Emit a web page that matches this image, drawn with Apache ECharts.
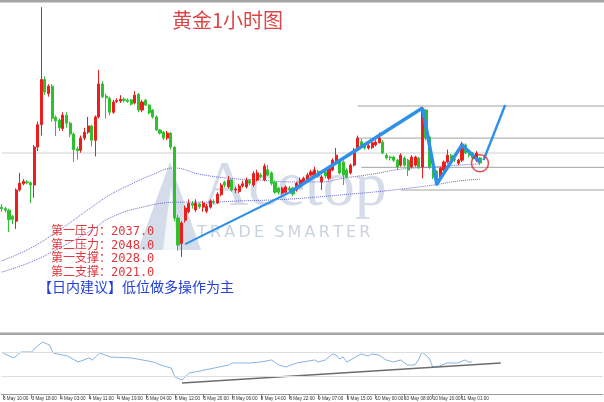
<!DOCTYPE html>
<html><head><meta charset="utf-8">
<script src="https://cdn.jsdelivr.net/npm/echarts/dist/echarts.min.js"></script>
<style>html,body{margin:0;padding:0;background:#fff}#c{width:604px;height:402px}</style>
</head><body><div id="c"></div>
<script>
const tickLabels = ['3 May 10:00','3 May 18:00','4 May 03:00','4 May 11:00','4 May 19:00','5 May 04:00','5 May 12:00','5 May 20:00','8 May 06:00','8 May 14:00','8 May 22:00','9 May 07:00','9 May 15:00','10 May 00:00','10 May 08:00','10 May 16:00','11 May 01:00'];
const slotCount = 168;

const opens = [2015.5,2015.0,2014.5,2012.5,2011.0,2021.0,2023.0,2023.6,2023.3,2022.6,
2034.8,2042.0,2056.5,2052.0,2054.4,2044.4,2043.5,2040.8,2045.0,2042.5,
2039.0,2034.2,2033.8,2037.7,2039.6,2041.6,2037.0,2044.5,2055.1,2051.2,
2050.5,2046.0,2049.5,2049.6,2050.2,2049.9,2050.0,2049.0,2051.8,2046.7,
2049.9,2048.3,2046.7,2044.5,2040.3,2039.6,2037.7,2039.3,2034.8,2012.0,
2003.8,2011.3,2014.0,2016.7,2014.6,2016.5,2015.5,2014.2,2015.5,2017.3,
2016.8,2019.5,2023.5,2022.0,2024.2,2021.0,2020.5,2022.3,2022.0,2024.0,
2022.6,2024.2,2025.8,2024.2,2027.5,2026.5,2023.5,2021.6,2020.0,2020.3,
2021.6,2021.6,2021.0,2022.0,2023.2,2024.2,2025.8,2025.2,2027.0,2023.6,
2026.8,2024.8,2027.4,2030.0,2030.6,2030.0,2027.4,2026.5,2029.0,2033.9,
2036.5,2035.5,2034.5,2034.6,2035.5,2036.2,2036.4,2032.2,2031.6,2031.6,
2030.6,2029.0,2031.3,2030.6,2028.4,2029.0,2031.3,2028.4,2046.7,2038.0,
2028.4,2027.0,2024.8,2027.4,2030.0,2032.2,2031.0,2029.6,2030.6,2035.5,
2033.2,2032.9,2030.6,2031.3];
const closes = [2015.0,2014.5,2011.5,2011.6,2021.0,2023.2,2023.8,2023.3,2022.6,2034.8,
2042.0,2056.5,2052.5,2054.4,2044.1,2043.2,2041.0,2045.1,2042.5,2039.0,
2034.0,2033.6,2037.7,2039.6,2041.6,2037.0,2044.5,2055.1,2051.0,2050.6,
2046.0,2049.3,2049.8,2050.2,2049.8,2049.5,2048.6,2051.5,2046.7,2049.3,
2048.3,2045.8,2044.5,2040.3,2039.3,2037.7,2039.3,2034.8,2012.0,2003.3,
2010.4,2015.2,2016.8,2016.1,2016.8,2015.6,2016.8,2015.8,2017.5,2017.1,
2019.7,2022.6,2022.6,2024.2,2021.0,2021.3,2022.3,2023.0,2024.2,2023.2,
2026.3,2026.5,2025.3,2028.7,2025.8,2023.2,2020.3,2020.3,2021.6,2022.0,
2021.0,2019.7,2023.2,2024.2,2024.8,2025.8,2026.8,2027.4,2025.5,2025.2,
2025.5,2028.0,2030.6,2032.2,2026.5,2025.8,2025.2,2029.0,2033.9,2037.7,
2035.3,2034.5,2035.2,2036.2,2036.4,2037.7,2032.9,2031.3,2031.3,2030.6,
2028.4,2032.2,2029.0,2027.4,2031.6,2031.6,2028.4,2046.7,2037.7,2028.4,
2025.2,2024.2,2028.0,2030.0,2032.2,2030.6,2030.8,2030.6,2035.8,2032.9,
2032.2,2031.3,2032.9,2029.7];
const lows = [2014.0,2013.8,2007.5,2010.0,2008.5,2020.5,2022.5,2022.8,2016.8,2018.5,
2033.5,2038.5,2051.5,2051.0,2043.0,2038.4,2040.0,2040.0,2041.0,2038.0,
2030.0,2030.8,2033.0,2037.0,2039.0,2035.0,2031.8,2044.0,2050.5,2044.0,
2045.0,2045.5,2049.0,2049.0,2049.2,2049.0,2048.2,2048.5,2046.0,2046.0,
2048.0,2045.3,2044.0,2040.0,2038.8,2037.0,2037.0,2034.0,2011.0,2001.5,
1999.5,2010.5,2013.5,2015.0,2014.0,2015.0,2014.0,2013.5,2015.0,2016.5,
2016.5,2019.0,2021.8,2021.5,2020.5,2020.0,2020.0,2021.8,2021.5,2022.5,
2022.0,2023.8,2024.8,2023.8,2025.5,2022.5,2019.8,2019.5,2019.5,2019.8,
2020.3,2019.0,2020.5,2021.5,2022.8,2023.8,2025.3,2024.8,2025.0,2021.0,
2024.8,2024.2,2027.0,2029.5,2026.0,2022.6,2024.8,2026.0,2028.6,2033.5,
2035.0,2034.0,2034.0,2034.2,2035.0,2036.0,2032.5,2030.8,2030.5,2030.0,
2027.5,2028.5,2028.5,2025.5,2028.0,2028.5,2027.8,2024.8,2037.0,2027.8,
2024.5,2022.5,2024.2,2027.0,2029.5,2030.0,2030.0,2029.0,2030.0,2032.5,
2031.5,2030.8,2030.0,2029.0];
const highs = [2016.5,2015.6,2015.0,2013.0,2021.5,2026.5,2024.5,2024.2,2023.8,2035.5,
2043.0,2079.8,2057.5,2055.0,2055.0,2045.0,2044.0,2046.0,2046.0,2043.0,
2039.5,2035.0,2038.5,2041.0,2044.5,2042.0,2045.0,2059.6,2056.0,2052.0,
2051.0,2050.0,2050.5,2051.5,2050.8,2050.5,2050.3,2052.8,2052.2,2050.0,
2050.3,2048.6,2047.0,2045.0,2040.6,2040.0,2040.0,2039.6,2035.0,2013.0,
2011.0,2016.0,2018.0,2017.5,2018.0,2017.0,2017.5,2016.5,2018.0,2018.0,
2020.3,2023.2,2024.0,2025.5,2024.5,2022.0,2023.0,2024.0,2025.0,2024.5,
2027.0,2027.5,2026.5,2029.5,2029.0,2027.0,2024.0,2022.0,2022.0,2022.5,
2022.3,2022.0,2023.6,2025.0,2025.3,2026.5,2027.5,2028.5,2027.5,2025.8,
2027.0,2028.5,2031.2,2034.5,2031.0,2030.5,2028.0,2029.5,2034.5,2038.5,
2037.5,2036.0,2035.8,2036.8,2037.0,2039.5,2037.0,2032.8,2032.0,2032.0,
2031.0,2032.8,2031.8,2031.0,2032.2,2032.0,2031.6,2047.7,2047.0,2038.5,
2028.7,2027.4,2028.5,2030.5,2034.0,2032.6,2031.5,2031.0,2036.5,2036.0,
2033.6,2033.2,2033.5,2031.6];

// moving averages (read at sample bars)
const maFastIdx = [0,8,16,25,30,36,41,48,55,63,72,80,89,95,103,111,120,127,133];
const maFastVal = [1998.2,2002.3,2008.1,2015.5,2019.4,2022.9,2025.5,2028.1,2026.1,2024.8,2024.2,2023.6,2023.6,2024.8,2026.1,2027.7,2028.4,2029.0,2029.4];
const maSlowIdx = [0,8,16,25,30,38,49,58,66,75,84,94,103,111,120,127,133];
const maSlowVal = [1994.6,1997.8,2002.3,2008.1,2012.0,2015.2,2017.1,2017.1,2017.5,2017.8,2018.4,2019.4,2020.3,2021.3,2022.6,2023.9,2024.5];

// RSI readings
const rsiIdx = [0,3,5,8,9,11,13,14,18,21,24,25,27,30,36,39,42,44,47,48,50,52,55,59,63,64,69,72,75,77,79,82,87,88,90,92,93,94,95,96,98,100,102,103,105,107,109,111,113,115,116,117,119,120,122,124,126,127,129,130,131];
const rsiVal = [68.3,60,70,70,76.7,86.7,81.7,68.3,63.3,53.3,60,56.7,68.3,61.7,60,56.7,53.3,48.3,43.3,28.3,23.3,35,38.3,43.3,48.3,51.7,51.7,53.3,56.7,48.3,45,51.7,56.7,53.3,56.7,66.7,65,58.3,61.7,53.3,60,66.7,63.3,66.7,65,56.7,53.3,56.7,48.3,48.3,56.7,70,60,45,46.7,51.7,51.7,51.7,56.7,53.3,53.3];
const rsiLevels = [70, 30];
const rsiTrendIdx = [50, 139];
const rsiTrendVal = [18.3, 51.6];

// annotated levels
const levelNames = ['第一压力','第二压力','第一支撑','第二支撑'];
const levelValues = [2037.0, 2048.0, 2028.0, 2021.0];
const drawnLevelPrices = [2048.0, 2037.7, 2028.3, 2021.0];
const drawnLevelStart = [99, 99, 100, 111];
const priceLine = 2032.9;

// hand-drawn analysis lines
const trendIdx = [51, 80, 117.4];
const trendVal = [2003.6, 2020.2, 2047.4];
const zigIdx = [117.4, 121, 128, 133];
const zigVal = [2047.4, 2022.9, 2035.5, 2030.0];
const arrowIdx = [134, 140.3];
const arrowVal = [2030.6, 2048.3];
const circleAt = [132.5, 2029.6];

const title = '黄金1小时图';
const advice = '【日内建议】低位做多操作为主';

const cats = Array.from({length: slotCount}, (_, i) => i);
const candles = opens.map((o, i) => [o, closes[i], lows[i], highs[i]]);
const pairs = (a, b) => a.map((x, i) => [x, b[i]]);

const blue = '#2e90e8';
const series = [
  { type:'candlestick', xAxisIndex:0, yAxisIndex:0, data:candles, barWidth:2.6, z:3,
    itemStyle:{color:'#ee1d1d', color0:'#2dc22d', borderColor:'#ee1d1d', borderColor0:'#2dc22d', borderWidth:1} },
  { type:'line', data:pairs(maFastIdx, maFastVal), symbol:'none', smooth:0.4, z:2,
    lineStyle:{type:'dotted', color:'#6767d0', width:1} },
  { type:'line', data:pairs(maSlowIdx, maSlowVal), symbol:'none', smooth:0.4, z:2,
    lineStyle:{type:'dotted', color:'#6767d0', width:1} },
  { type:'line', data:[[-0.5, priceLine],[slotCount-0.5, priceLine]], symbol:'none', z:1,
    lineStyle:{color:'#cfcfcf', width:1} }
];
drawnLevelPrices.forEach((p, k) => {
  series.push({ type:'line', data:[[drawnLevelStart[k], p],[slotCount-0.5, p]], symbol:'none', z:1,
    lineStyle:{color:'#a2a2a2', width:1} });
});
series.push(
  { type:'line', data:[[trendIdx[0], trendVal[0]],[trendIdx[1], trendVal[1]]], symbol:'none', z:6,
    lineStyle:{color:blue, width:2} },
  { type:'line', data:[[trendIdx[1], trendVal[1]],[trendIdx[2], trendVal[2]]], symbol:'none', z:6,
    lineStyle:{color:blue, width:3.5} },
  { type:'line', data:pairs(zigIdx, zigVal), symbol:'none', z:6,
    lineStyle:{color:blue, width:3.5, join:'round'} },
  { type:'line', data:[], z:6,
    markLine:{ silent:true, symbol:['none','arrow'], symbolSize:[0,9], label:{show:false},
      lineStyle:{color:blue, width:2.5, type:'solid'},
      data:[[{coord:[arrowIdx[0], arrowVal[0]]},{coord:[arrowIdx[1], arrowVal[1]]}]] } },
  { type:'scatter', data:[circleAt], symbol:'circle', symbolSize:17, z:7,
    itemStyle:{color:'rgba(0,0,0,0)', borderColor:'#e42222', borderWidth:1.5} },
  { type:'line', xAxisIndex:1, yAxisIndex:1, data:pairs(rsiIdx, rsiVal), symbol:'none', z:3,
    lineStyle:{color:'#86b4e2', width:1},
    markLine:{ silent:true, symbol:'none', label:{show:false}, lineStyle:{color:'#dedede', width:1, type:'solid'},
      data: rsiLevels.map(v => ({yAxis:v})) } },
  { type:'line', xAxisIndex:1, yAxisIndex:1, data:pairs(rsiTrendIdx, rsiTrendVal), symbol:'none', z:4,
    lineStyle:{color:'#6d6d6d', width:1.5} }
);

const chart = echarts.init(document.getElementById('c'), null, {renderer:'canvas'});
chart.setOption({
  animation:false,
  backgroundColor:'#ffffff',
  grid:[{left:0, right:0, top:3.4, height:329.7},{left:0, right:0, top:334, height:60}],
  xAxis:[
    {type:'category', gridIndex:0, data:cats, show:false},
    {type:'category', gridIndex:1, data:cats,
      axisLine:{lineStyle:{color:'#9a9a9a', width:1}},
      axisTick:{show:true, alignWithLabel:true, length:5, interval:(i)=> i%8===0 && i/8 < tickLabels.length, lineStyle:{color:'#8a8a8a'}},
      axisLabel:{interval:0, align:'left', margin:2, fontSize:4.6, color:'#333', fontFamily:'"Liberation Sans"',
        formatter:(v, i)=> (i%8===0 && tickLabels[i/8]) ? tickLabels[i/8] : ''},
      splitLine:{show:false}}
  ],
  yAxis:[
    {type:'value', gridIndex:0, min:1975, max:2081, show:false, splitLine:{show:false}},
    {type:'value', gridIndex:1, min:0, max:100, show:false, splitLine:{show:false}}
  ],
  graphic:[
    {type:'rect', left:0, top:0, z:50, shape:{width:604, height:2.5}, style:{fill:'#a4a4a4'}},
    {type:'rect', left:0, top:332.5, z:50, shape:{width:604, height:2.5}, style:{fill:'#a4a4a4'}},
    {type:'polygon', z:0, shape:{points:[[138,250],[170,162],[201,250]]}, style:{fill:'#d3dce8'}},
    {type:'polygon', z:0, shape:{points:[[163,250],[171,185],[178,250]]}, style:{fill:'#f4f7fa'}},
    {type:'text', z:0, left:202, top:156, style:{text:'Acetop', fontSize:64, fontFamily:'"Liberation Serif"', fill:'#d3dce8'}},
    {type:'text', z:0, left:197, top:225, style:{text:'T\u2009R\u2009A\u2009D\u2009E  S\u2009M\u2009A\u2009R\u2009T\u2009E\u2009R', fontSize:16, fontFamily:'"DejaVu Sans"', fill:'#c9d3df'}},
    {type:'text', z:100, left:172, top:10, style:{text:title, fontSize:20, fontFamily:'"Noto Sans CJK SC"', fill:'#dc4646'}},
    {type:'text', z:100, left:51, top:225, style:{text: levelNames.map((n,k)=> n + '：' + levelValues[k].toFixed(1)).join('\n'), fontSize:12, lineHeight:13.6, fontFamily:'"DejaVu Sans Mono","Noto Sans CJK SC"', fill:'#e0363c'}},
    {type:'text', z:100, left:38, top:280, style:{text:advice, fontSize:14, fontFamily:'"Noto Sans CJK SC"', fill:'#2340d8'}}
  ],
  series: series
});
</script></body></html>
